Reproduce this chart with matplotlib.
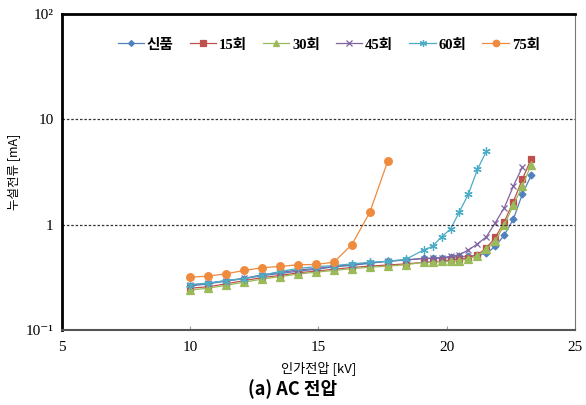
import matplotlib
matplotlib.use("Agg")
from matplotlib import pyplot as plt

# applied voltage [kV]
volt = [10.0, 10.7, 11.4, 12.1, 12.8, 13.5, 14.2, 14.9, 15.6, 16.3, 17.0, 17.7,
        18.4, 19.1, 19.45, 19.8, 20.15, 20.5, 20.85, 21.2, 21.55, 21.9, 22.25,
        22.6, 22.95, 23.3]

# leakage current [mA]
new = [0.262, 0.275, 0.292, 0.308, 0.328, 0.345, 0.362, 0.378, 0.398, 0.412, 0.43, 0.452,
       0.464, 0.48, 0.48, 0.485, 0.491, 0.5, 0.5, 0.517, 0.536, 0.624, 0.8, 1.13, 1.95, 2.96]
c15 = [0.25, 0.258, 0.275, 0.295, 0.315, 0.33, 0.35, 0.363, 0.378, 0.393, 0.405, 0.415,
       0.425, 0.44, 0.445, 0.45, 0.464, 0.475, 0.48, 0.517, 0.603, 0.759, 1.07, 1.66, 2.7, 4.25]
c30 = [0.24, 0.25, 0.266, 0.285, 0.305, 0.322, 0.34, 0.355, 0.368, 0.383, 0.395, 0.405,
       0.417, 0.44, 0.441, 0.448, 0.45, 0.457, 0.475, 0.51, 0.59, 0.706, 1.0, 1.53, 2.33, 3.73]
c45 = [0.268, 0.278, 0.295, 0.31, 0.335, 0.352, 0.372, 0.385, 0.402, 0.418, 0.435, 0.45,
       0.462, 0.478, 0.48, 0.488, 0.5, 0.52, 0.577, 0.658, 0.77, 1.05, 1.456, 2.33, 3.52]
c60 = [0.27, 0.28, 0.295, 0.308, 0.332, 0.36, 0.385, 0.4, 0.41, 0.425, 0.44, 0.45,
       0.468, 0.577, 0.624, 0.77, 0.91, 1.33, 1.97, 3.35, 5.0]
c75 = [0.318, 0.325, 0.343, 0.368, 0.391, 0.402, 0.417, 0.42, 0.441, 0.648, 1.31, 4.01]

labels = ['신품', '15회', '30회', '45회', '60회', '75회']
series = [new, c15, c30, c45, c60, c75]
colors = ['#4F81BD', '#C0504D', '#9BBB59', '#8064A2', '#4BACC6', '#F08A3C']
markers = ['D', 's', '^', 'x', (6, 2, 0), 'o']
msizes = [3.5, 5, 5.5, 5, 6, 5.5]

plt.rcParams['font.family'] = ['Liberation Serif', 'DejaVu Serif', 'Noto Sans CJK KR']

fig = plt.figure(figsize=(5.86, 4.05), dpi=100)
ax = fig.add_axes([0.106, 0.185, 0.875, 0.78])

for y, lab, c, m, ms in zip(series, labels, colors, markers, msizes):
    ax.plot(volt[:len(y)], y, color=c, lw=0.9, marker=m, markersize=ms,
            markeredgecolor=c, markeredgewidth=0.9, label=lab)

ax.set_yscale('log')
ax.set_xlim(5, 25)
ax.set_ylim(0.1, 100)
ax.set_xticks([5, 10, 15, 20, 25])
ax.set_yticks([0.1, 1, 10, 100])
ax.set_yticklabels(['10⁻¹', '1', '10', '10²'])
ax.minorticks_off()
ax.tick_params(axis='y', length=0, pad=6, labelsize=11)
ax.tick_params(axis='x', direction='in', length=3, color='#999999', pad=8, labelsize=11)
for v in [1, 10]:
    ax.axhline(v, color='#333333', lw=0.9, ls=(0, (2, 1.5)))

ax.spines['left'].set_linewidth(2)
ax.spines['top'].set_linewidth(2)
ax.spines['bottom'].set_linewidth(1.5)
ax.spines['bottom'].set_color('#555555')
ax.spines['right'].set_color('#777777')

ax.set_xlabel('인가전압 [kV]', fontsize=9.5, labelpad=5,
              family=['Noto Sans CJK KR'])
ax.set_ylabel('누설전류 [mA]', fontsize=9, family=['Noto Sans CJK KR'])
ax.yaxis.set_label_coords(-0.083, 0.5)

ax.legend(loc='upper center', bbox_to_anchor=(0.52, 0.965), ncol=6, frameon=False,
          handlelength=1.8, handletextpad=0.2, columnspacing=1.1, markerscale=0.85,
          prop={'family': ['Liberation Serif', 'Noto Sans CJK KR'], 'size': 10.5,
                'weight': 'bold'})

fig.text(0.5, 0.04, '(a) AC 전압', ha='center', va='center', fontsize=13,
         fontweight='bold', family=['Noto Sans CJK KR'])

fig.savefig('out.png', dpi=100)
